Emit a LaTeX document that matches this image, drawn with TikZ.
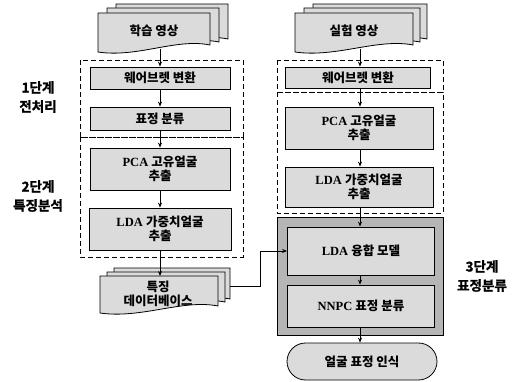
\documentclass[tikz,border=0pt]{standalone}
\usepackage{fontspec}
\setmainfont{Liberation Serif}
\newfontfamily\kr{Noto Sans CJK KR Bold}
\newfontfamily\krb{Noto Sans CJK KR Bold}[FakeBold=1.5]
\usetikzlibrary{arrows.meta,shapes.misc}
\newcommand\K[1]{{\kr #1}}
\newcommand\docpage[4]{%
  \filldraw[docfill] (#1,#2) -- (#3,#2) -- (#3,{#4-7})
    .. controls ({#3-0.3*(#3-#1)},{#4-14}) and ({#1+0.35*(#3-#1)},{#4+6}) .. (#1,#4) -- cycle;}
\tikzset{
  docfill/.style={fill=gray!28, draw=black, line width=0.8pt},
  procbox/.style={draw=black, line width=0.8pt, fill=gray!28, font=\bfseries\fontsize{12.5}{14.5}\selectfont, align=center, inner sep=0pt},
  stagebox/.style={draw=black, dashed, dash pattern=on 5pt off 3pt, line width=0.9pt},
  container/.style={draw=black, line width=0.8pt, fill=gray!58},
  lbl/.style={font=\krb\fontsize{13.5}{16}\selectfont, align=center},
  arr/.style={-{Stealth[length=5pt,width=4pt]}, line width=0.8pt},
  txt/.style={font=\bfseries\fontsize{12.5}{14.5}\selectfont, align=center}
}
\begin{document}
\begin{tikzpicture}[x=1pt,y=-1pt]
\useasboundingbox (0,0) rectangle (514,382);
\fill[white] (0,0) rectangle (514,382);

% stage boxes
\draw[stagebox] (80,60) rectangle (243,137);
\draw[stagebox] (80,137) rectangle (243,257);
\draw[stagebox] (277,60) rectangle (443,92);
\draw[stagebox] (277,92) rectangle (443,213);
\filldraw[container] (277,217) rectangle (443,335);

% left document stack
\docpage{116}{4}{228}{46}
\docpage{107}{8}{219}{49}
\docpage{98}{13}{210}{52}
\node[txt] (doc1) at (154,31) {\K{학습 영상}};
\coordinate (doc1b) at (160,49);

% right document stack
\docpage{313}{4}{427}{46}
\docpage{304}{8}{420}{49}
\docpage{295}{13}{413}{52}
\node[txt] (doc2) at (354,31) {\K{실험 영상}};
\coordinate (doc2b) at (360,49);

% left boxes
\node[procbox, minimum width=140pt, minimum height=22pt] (wav1) at (160,78) {\K{웨어브렛 변환}};
\node[procbox, minimum width=140pt, minimum height=23pt] (cls1) at (160,118.5) {\K{표정 분류}};
\node[procbox, minimum width=140pt, minimum height=42pt] (pca1) at (160,169) {PCA \K{고유얼굴}\\\K{추출}};
\node[procbox, minimum width=142pt, minimum height=42pt] (lda1) at (160,229) {LDA \K{가중치얼굴}\\\K{추출}};

% database stack
\docpage{114}{268}{230}{306}
\docpage{107}{272}{225}{309}
\docpage{100}{276}{218}{313}
\node[txt] (db) at (158,294) {\K{특징}\\\K{데이터베이스}};
\coordinate (dbt) at (160,276);
\coordinate (dbr) at (230,286);

% right boxes
\node[procbox, minimum width=145pt, minimum height=21pt] (wav2) at (358,77.5) {\K{웨어브렛 변환}};
\node[procbox, minimum width=148pt, minimum height=42pt] (pca2) at (359,128) {PCA \K{고유얼굴}\\\K{추출}};
\node[procbox, minimum width=148pt, minimum height=40pt] (lda2) at (359,187) {LDA \K{가중치얼굴}\\\K{추출}};
\node[procbox, minimum width=147pt, minimum height=48pt] (fuse) at (361,251) {LDA \K{융합 모델}};
\node[procbox, minimum width=147pt, minimum height=42pt] (nnpc) at (361,306) {NNPC \K{표정 분류}};
\node[procbox, rounded rectangle, minimum width=150pt, minimum height=37pt] (rec) at (362,361.5) {\K{얼굴 표정 인식}};

% arrows left
\draw[arr] (doc1b) -- (wav1.north);
\draw[arr] (wav1) -- (cls1);
\draw[arr] (cls1) -- (pca1);
\draw[arr] (pca1) -- (lda1);
\draw[arr] (lda1.south) -- (dbt);
% arrows right
\draw[arr] (doc2b) -- (wav2.north -| doc2b);
\draw[arr] (wav2.south -| doc2b) -- (pca2.north -| doc2b);
\draw[arr] (pca2.south -| doc2b) -- (lda2.north -| doc2b);
\draw[arr] (lda2.south -| doc2b) -- (fuse.north -| doc2b);
\draw[arr] (fuse.south -| doc2b) -- (nnpc.north -| doc2b);
\draw[arr] (nnpc.south -| doc2b) -- (rec.north -| doc2b);
% database to fusion
\draw[arr] (dbr) -- ++(30,0) |- (fuse.west);

% stage labels
\node[lbl] (s1) at (38,97) {1단계\\[3pt]전처리};
\node[lbl] (s2) at (38,196) {2단계\\[3pt]특징분석};
\node[lbl] (s3) at (482,276) {3단계\\[3pt]표정분류};
\end{tikzpicture}
\end{document}
